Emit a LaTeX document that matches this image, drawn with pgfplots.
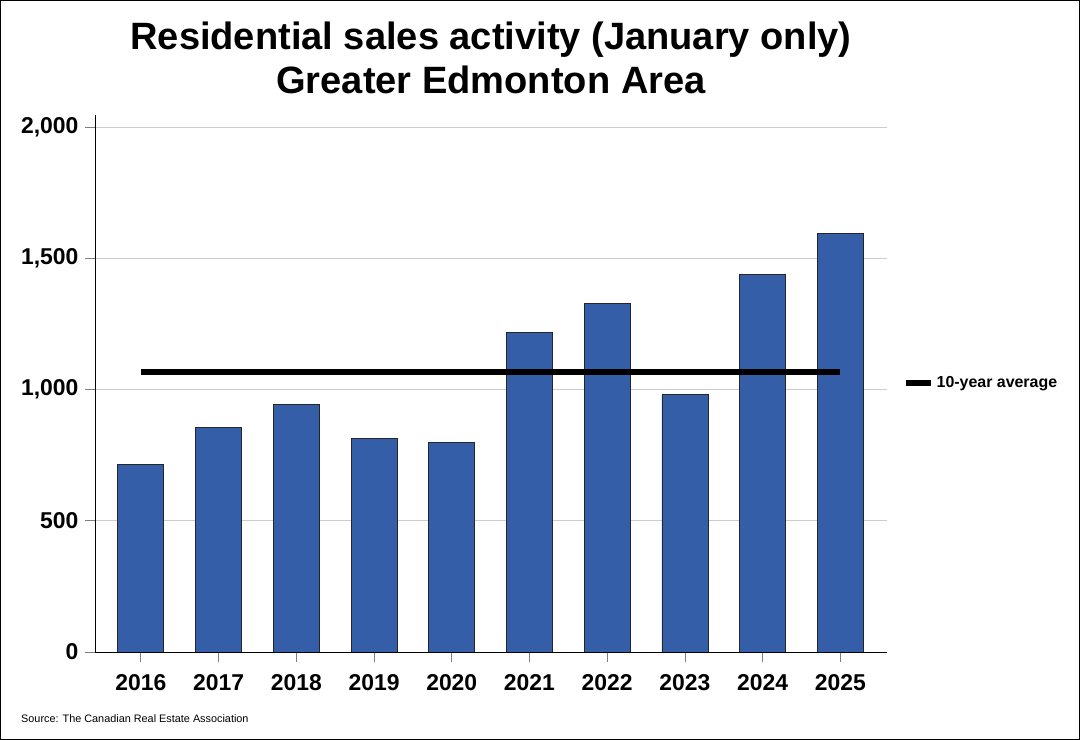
\documentclass[border=0pt]{standalone}
\usepackage{fontspec}
\setmainfont{Liberation Sans}
\usepackage{pgfplots}
\pgfplotsset{compat=1.18}
\definecolor{barblue}{RGB}{52,94,168}
\begin{document}
\begin{tikzpicture}
\useasboundingbox (0,0) rectangle (1080bp,740bp);
\fill[white] (0,0) rectangle (1080bp,740bp);
\draw[black, line width=1bp] (0.5bp,0.5bp) rectangle (1079.5bp,739.5bp);
\node[font=\fontsize{38.2}{44}\selectfont\bfseries, anchor=base, inner sep=0pt] at (491bp,690bp) {Residential sales activity (January only)};
\node[font=\fontsize{38.2}{44}\selectfont\bfseries, anchor=base, inner sep=0pt] at (491bp,646bp) {Greater Edmonton Area};
\node[font=\fontsize{10.9}{12}\selectfont, anchor=base west, inner sep=0pt] at (21bp,18bp) {Source: The Canadian Real Estate Association};
\begin{axis}[
  at={(95bp,88bp)}, anchor=south west,
  scale only axis, width=792bp, height=537bp,
  xmin=-0.59, xmax=9.6, ymin=0, ymax=2046,
  axis lines*=left,
  axis line style={black, line width=0.8bp},
  xtick={0,...,9},
  xticklabels={2016,2017,2018,2019,2020,2021,2022,2023,2024,2025},
  ytick={0,500,1000,1500,2000},
  /pgf/number format/fixed,
  /pgf/number format/1000 sep={,},
  /pgf/number format/assume math mode=true,
  tick label style={font=\fontsize{23}{23}\selectfont\bfseries},
  xticklabel style={yshift=-9bp},
  yticklabel style={xshift=-3bp},
  tick align=outside,
  major tick length=10bp,
  tick style={gray, line width=0.8bp},
  ymajorgrids,
  grid style={gray!40, line width=0.8bp},
  legend style={at={(1.0195,0.501)}, anchor=west, draw=none, fill=none,
    font=\fontsize{16}{16}\selectfont\bfseries, inner sep=0pt,
    nodes={inner sep=3bp}},
  legend image code/.code={\draw[line width=6bp] (0bp,0bp) -- (25bp,0bp);},
]
\addplot[ybar, bar width=46bp, fill=barblue, draw=black!85, line width=0.8bp, forget plot]
  coordinates {(0,716) (1,854) (2,943) (3,814) (4,798) (5,1216) (6,1328) (7,981) (8,1437) (9,1596)};
\addplot[black, line width=6bp, line cap=butt] coordinates {(0,1068) (9,1068)};
\addlegendentry{10-year average}
\end{axis}
\end{tikzpicture}
\end{document}
